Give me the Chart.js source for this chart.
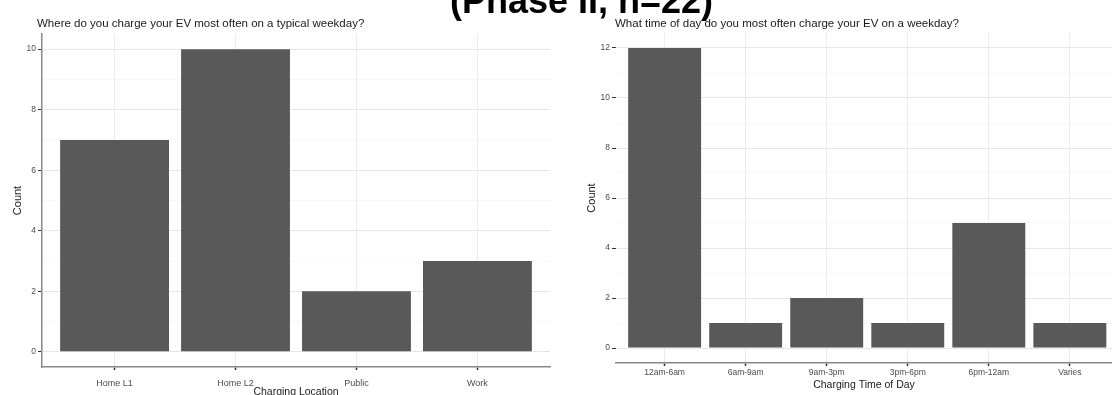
<!DOCTYPE html>
<html>
<head>
<meta charset="utf-8">
<script src="https://cdn.jsdelivr.net/npm/chart.js@4/dist/chart.umd.min.js"></script>
<style>
  body { margin: 0; background: #fff; font-family: "Liberation Sans", Arial, sans-serif; }
  #wrap { position: relative; width: 1112px; height: 395px; overflow: hidden; background: #fff; }
  canvas { position: absolute; top: 0; }
  .head { position: absolute; white-space: nowrap; color: #000; font-weight: bold; font-size: 36px; line-height: 36px; }
  .sub { position: absolute; white-space: nowrap; color: #1a1a1a; font-size: 11.5px; line-height: 14px; }
</style>
</head>
<body>
<div id="wrap">
  <canvas id="locChart" width="560" height="395" style="left:0"></canvas>
  <canvas id="timeChart" width="552" height="395" style="left:560px"></canvas>
  <div class="head" style="left:450px; top:-17px">(Phase II, n=22)</div>
  <div class="sub" style="left:37px; top:16px">Where do you charge your EV most often on a typical weekday?</div>
  <div class="sub" style="left:615px; top:16px">What time of day do you most often charge your EV on a weekday?</div>
</div>
<script>
// charging location
var locationLabels = ['Home L1', 'Home L2', 'Public', 'Work'];
var locationCounts = [7, 10, 2, 3];
var locationTicks = [0, 2, 4, 6, 8, 10];

// charging time
var timeLabels = ['12am-6am', '6am-9am', '9am-3pm', '3pm-6pm', '6pm-12am', 'Varies'];
var timeCounts = [12, 1, 2, 1, 5, 1];
var timeTicks = [0, 2, 4, 6, 8, 10, 12];

Chart.defaults.font.family = '"Liberation Sans", Arial, sans-serif';
Chart.defaults.color = '#4d4d4d';

var barColor = '#595959';
var axisColor = '#8a8a8a';

function makeChart(id, labels, counts, majors, opts) {
    var ctx = document.getElementById(id).getContext('2d');
    var top = majors[majors.length - 1];
    var pad = top * 0.05;
    var yTicks = [];
    for (var v = 0; v <= top; v++) yTicks.push(v);
    var xTicks = labels.map((l, i) => i);

    return new Chart(ctx, {
        type: 'bar',
        data: {
            datasets: [{
                data: counts.map((c, i) => ({x: i, y: c})),
                backgroundColor: barColor,
                borderWidth: 0,
                barPercentage: 0.9,
                categoryPercentage: 1.0
            }]
        },
        options: {
            responsive: false,
            animation: false,
            devicePixelRatio: 1,
            layout: {padding: opts.padding},
            plugins: {legend: {display: false}, tooltip: {enabled: false}, title: {display: false}},
            scales: {
                x: {
                    type: 'linear',
                    offset: false,
                    min: -0.6,
                    max: opts.xMax,
                    afterBuildTicks: axis => { axis.ticks = xTicks.map(v => ({value: v})); },
                    afterFit: axis => { axis.height = opts.xHeight; },
                    ticks: {
                        callback: v => labels[v],
                        font: {size: opts.xFont},
                        padding: opts.xTickPad,
                        maxRotation: 0,
                        autoSkip: false
                    },
                    grid: {
                        offset: false,
                        color: '#ececec',
                        lineWidth: 1,
                        tickLength: 3,
                        tickColor: '#333',
                        tickWidth: 1.5
                    },
                    border: {display: true, color: axisColor, width: 1.5},
                    title: {
                        display: true,
                        text: opts.xTitle,
                        color: '#1a1a1a',
                        font: {size: 10.5, lineHeight: 1.2},
                        padding: {top: 0, bottom: opts.xTitlePad}
                    }
                },
                y: {
                    min: -pad,
                    max: top + pad,
                    afterBuildTicks: axis => { axis.ticks = yTicks.map(v => ({value: v})); },
                    afterFit: axis => { axis.width = opts.yWidth; },
                    ticks: {
                        callback: v => majors.indexOf(v) >= 0 ? v : '',
                        font: {size: 8.5},
                        padding: 2,
                        autoSkip: false
                    },
                    grid: {
                        color: c => majors.indexOf(c.tick.value) >= 0 ? '#e6e6e6' : '#f3f3f3',
                        lineWidth: c => majors.indexOf(c.tick.value) >= 0 ? 1 : 0.6,
                        tickLength: 4,
                        tickColor: c => majors.indexOf(c.tick.value) >= 0 ? '#333' : 'rgba(0,0,0,0)'
                    },
                    border: {display: opts.yBorder, color: axisColor, width: 1.5},
                    title: {
                        display: true,
                        text: 'Count',
                        color: '#1a1a1a',
                        font: {size: 11, lineHeight: 1.2},
                        padding: {top: opts.yTitlePad, bottom: 0}
                    }
                }
            }
        }
    });
}

makeChart('locChart', locationLabels, locationCounts, locationTicks, {
    padding: {top: 34, right: 10, left: 0, bottom: 0},
    xMax: 3.6,
    xHeight: 28,
    yWidth: 42,
    xFont: 9,
    xTickPad: 8,
    xTitle: 'Charging Location',
    xTitlePad: -3,
    yTitlePad: 11,
    yBorder: true
});

makeChart('timeChart', timeLabels, timeCounts, timeTicks, {
    padding: {top: 33, right: 0, left: 0, bottom: 0},
    xMax: 5.52,
    xHeight: 32,
    yWidth: 56,
    xFont: 8.5,
    xTickPad: 2,
    xTitle: 'Charging Time of Day',
    xTitlePad: 3.5,
    yTitlePad: 25,
    yBorder: false
});
</script>
</body>
</html>
